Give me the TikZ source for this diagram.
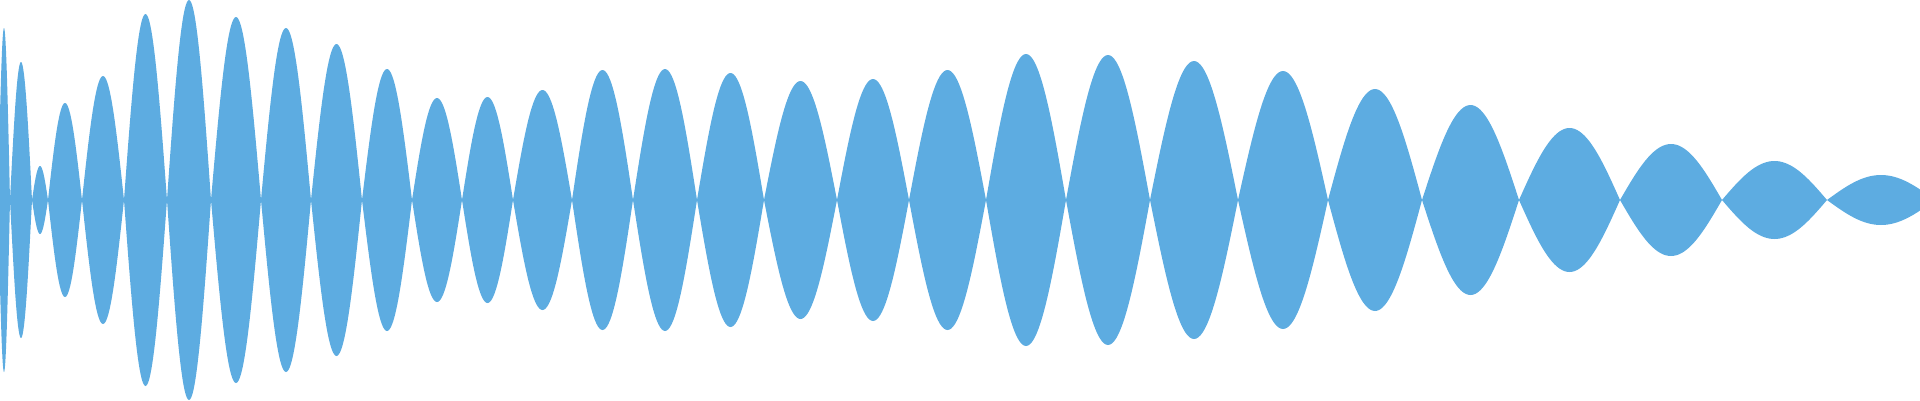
\documentclass[tikz,border=0pt]{standalone}
\definecolor{wavecol}{HTML}{5DACE1}
\tikzset{wave/.style={fill=wavecol}}
\begin{document}
\begin{tikzpicture}[x=1pt,y=-1pt]
\useasboundingbox (0,0) rectangle (1920,400);
\clip (0,0) rectangle (1920,400);
\foreach \a/\b/\h in {-2/10/172,10/32/138,32/48/34,48/82/97,82/124/124,124/167/186,167/211/200,211/261/183,261/311/172,311/362/156,362/412/131,412/462/102,462/513/103,513/572/110,572/633/130,633/697/131,697/764/127,764/837/119,837/909/121,909/986/130,986/1066/146,1066/1150/145,1150/1238/139,1238/1328/129,1328/1422/111,1422/1519/95,1519/1620/72,1620/1722/56,1722/1827/39,1827/1935/25}{
  \fill[wave] plot[domain=0:180,samples=41,smooth] ({\a+(\b-\a)*(\x/180)},{200-\h*sin(\x)})
    -- plot[domain=180:0,samples=41,smooth] ({\a+(\b-\a)*(\x/180)},{200+\h*sin(\x)}) -- cycle;
}
\end{tikzpicture}
\end{document}
